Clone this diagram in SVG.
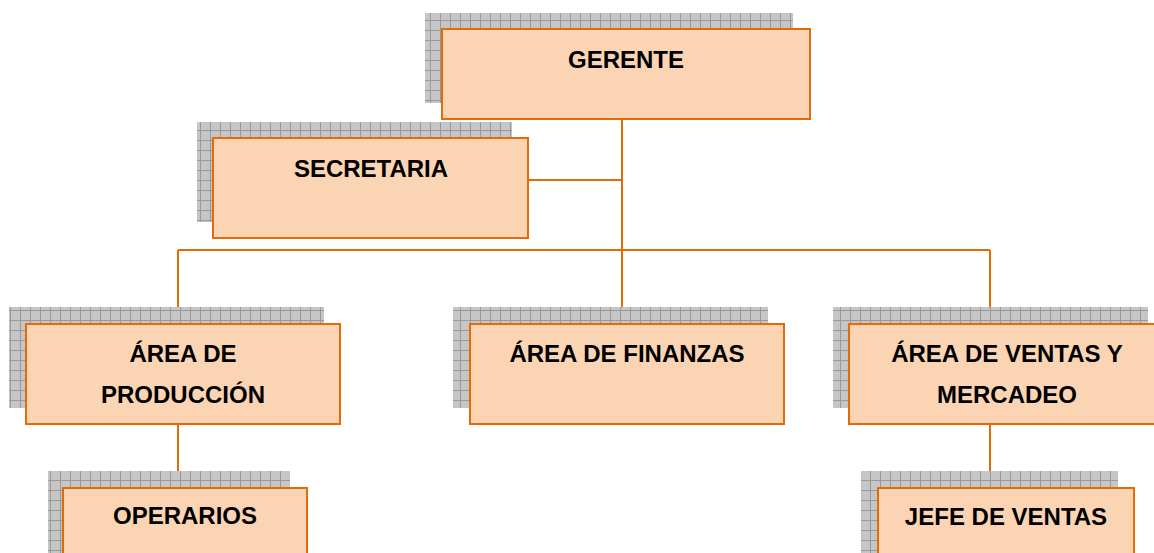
<svg xmlns="http://www.w3.org/2000/svg" width="1154" height="553" viewBox="0 0 1154 553">
<defs>
<pattern id="grid" width="10" height="10" patternUnits="userSpaceOnUse">
<rect width="10" height="10" fill="#c6c6c6"/>
<path d="M0 0.5H10M0.5 0V10" stroke="#999" stroke-width="1"/>
</pattern>
<style>
.sh{fill:url(#grid)}
.box{fill:#fbd4b4;stroke:#e36c0a;stroke-width:2}
.t{font-family:"Liberation Sans",Arial,sans-serif;font-weight:bold;font-size:24px;fill:#000;text-anchor:middle}
.c{stroke:#e36c0a;stroke-width:2;fill:none}
</style>
</defs>
<rect width="1154" height="553" fill="#fff"/>
<g id="connectors">
<path class="c" d="M622 120V324M528 180H622M178 250H990M178 250V324M990 250V324M178 424V488M990 424V488"/>
</g>
<g id="gerente">
<rect class="sh" x="425" y="13" width="368" height="90"/>
<rect class="box" x="442" y="29" width="368" height="90"/>
<text class="t" x="626" y="68">GERENTE</text>
</g>
<g id="secretaria">
<rect class="sh" x="197" y="122" width="315" height="100"/>
<rect class="box" x="213" y="138" width="315" height="100"/>
<text class="t" x="371" y="177">SECRETARIA</text>
</g>
<g id="produccion">
<rect class="sh" x="9" y="307" width="315" height="101"/>
<rect class="box" x="26" y="324" width="314" height="100"/>
<text class="t" x="183" y="362">ÁREA DE</text>
<text class="t" x="183" y="403">PRODUCCIÓN</text>
</g>
<g id="finanzas">
<rect class="sh" x="453" y="307" width="315" height="101"/>
<rect class="box" x="470" y="324" width="314" height="100"/>
<text class="t" x="627" y="362">ÁREA DE FINANZAS</text>
</g>
<g id="ventas">
<rect class="sh" x="833" y="307" width="315" height="101"/>
<rect class="box" x="849" y="324" width="316" height="100"/>
<text class="t" x="1007" y="362">ÁREA DE VENTAS Y</text>
<text class="t" x="1007" y="403">MERCADEO</text>
</g>
<g id="operarios">
<rect class="sh" x="48" y="471" width="242" height="100"/>
<rect class="box" x="63" y="488" width="244" height="100"/>
<text class="t" x="185" y="524">OPERARIOS</text>
</g>
<g id="jefe">
<rect class="sh" x="861" y="471" width="257" height="100"/>
<rect class="box" x="878" y="488" width="256" height="100"/>
<text class="t" x="1006" y="525">JEFE DE VENTAS</text>
</g>
</svg>
